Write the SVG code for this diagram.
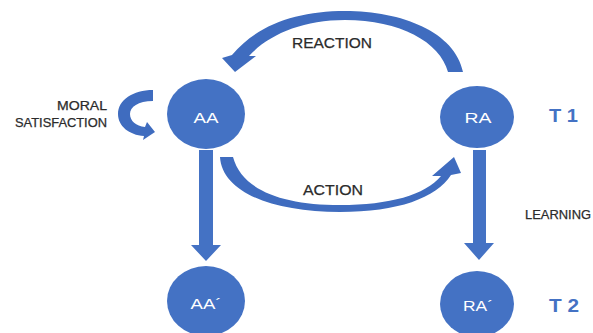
<svg xmlns="http://www.w3.org/2000/svg" width="593" height="333" viewBox="0 0 593 333">
<style>
.node{fill:#4472C4}
.arr{fill:#4472C4}
.carr{fill:#3F6CBF}
.nl{font-family:"Liberation Sans",Arial,sans-serif;font-size:14px;fill:#ffffff;text-anchor:middle}
.lb{font-family:"Liberation Sans",Arial,sans-serif;fill:#2b2b2b;stroke:#2b2b2b;stroke-width:0.25}
.t{font-family:"Liberation Sans",Arial,sans-serif;font-size:18px;font-weight:bold;fill:#4472C4}
</style>
<rect width="593" height="333" fill="#ffffff"/>
<g id="connectors">
<path id="reaction" class="carr" d="M232 55 C258 24 298 11 345 11 C402 11 455 32 463 72 L448 72 C440 42 400 20 345 20 C302 20 268 35 249 56 L256 56 L235 72 L222 58 Z"/>
<path id="action" class="carr" d="M220 157 C222 192 272 212 340 212 C398 212 436 198 451 175 L461 173 L454 157 L432 176 L441 176 C425 195 390 205 340 205 C282 205 242 190 233 157 Z"/>
<path id="moral" class="carr" d="M153 90 L153 101 C138 101 130 107 130 114 C130 121 136 126 145 127 L147 122 L155 132 L143 140 L144 136 C129 135 118 126 118 114 C118 100 133 90 153 90 Z"/>
<path id="aa-down" class="arr" d="M199 150 L213 150 L213 245 L221 245 L206 261 L191 245 L199 245 Z"/>
<path id="ra-down" class="arr" d="M473 150 L486 150 L486 243 L494 243 L479 260 L464 243 L473 243 Z"/>
</g>
<g id="node-AA"><ellipse class="node" cx="206" cy="114" rx="39" ry="35"/><text class="nl" x="206" y="123" textLength="25" lengthAdjust="spacingAndGlyphs">AA</text></g>
<g id="node-RA"><ellipse class="node" cx="477" cy="117" rx="37" ry="31"/><text class="nl" x="478" y="123" textLength="27" lengthAdjust="spacingAndGlyphs">RA</text></g>
<g id="node-AA2"><ellipse class="node" cx="206" cy="301" rx="39" ry="35"/><text class="nl" x="206" y="309" textLength="31" lengthAdjust="spacingAndGlyphs">AA´</text></g>
<g id="node-RA2"><ellipse class="node" cx="477" cy="304" rx="37" ry="33"/><text class="nl" x="478" y="311" textLength="30" lengthAdjust="spacingAndGlyphs">RA´</text></g>
<g id="labels">
<text class="lb" x="292" y="48" font-size="15" textLength="80" lengthAdjust="spacingAndGlyphs">REACTION</text>
<text class="lb" x="303" y="195" font-size="15" textLength="60" lengthAdjust="spacingAndGlyphs">ACTION</text>
<text class="lb" x="107" y="110" font-size="12" text-anchor="end" textLength="50" lengthAdjust="spacingAndGlyphs">MORAL</text>
<text class="lb" x="107" y="127" font-size="12" text-anchor="end" textLength="92" lengthAdjust="spacingAndGlyphs">SATISFACTION</text>
<text class="lb" x="525" y="219" font-size="13" textLength="66" lengthAdjust="spacingAndGlyphs">LEARNING</text>
<text class="t" x="549" y="122" textLength="29" lengthAdjust="spacingAndGlyphs">T 1</text>
<text class="t" x="549" y="312" textLength="30" lengthAdjust="spacingAndGlyphs">T 2</text>
</g>
</svg>
